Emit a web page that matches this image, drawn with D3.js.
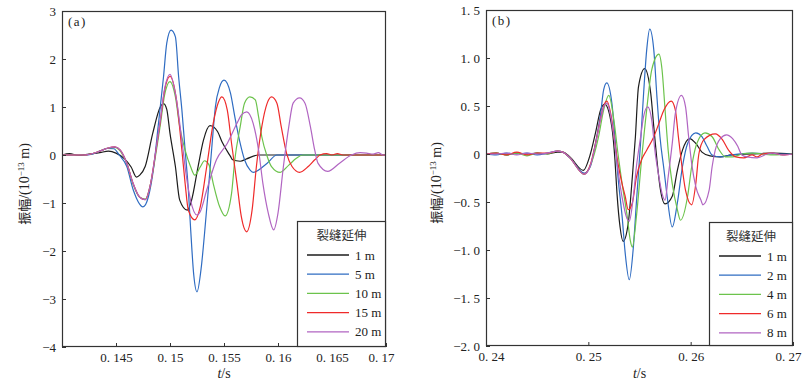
<!DOCTYPE html>
<html><head><meta charset="utf-8">
<script src="https://cdn.jsdelivr.net/npm/d3@7"></script>
<style>body{margin:0;background:#fff}svg{display:block}</style>
</head><body><svg id="c" width="809" height="381"></svg>
<script>
// ---------- data ----------
const legendTitle = "裂缝延伸";
const panelA_labels = ["1 m","5 m","10 m","15 m","20 m"];
const panelB_labels = ["1 m","2 m","4 m","6 m","8 m"];
const seriesColors = ["#1c1c1c","#2f6cc2","#6cc34c","#ef2a2a","#b165c2"];

const panelA_xTicks = [0.145,0.15,0.155,0.16,0.165,0.17];
const panelA_xTickLabels = ["0. 145","0. 15","0. 155","0. 16","0. 165","0. 17"];
const panelA_yTicks = [-4,-3,-2,-1,0,1,2,3];
const panelA_yTickLabels = ["−4","−3","−2","−1","0","1","2","3"];
const panelB_xTicks = [0.24,0.25,0.26,0.27];
const panelB_xTickLabels = ["0. 24","0. 25","0. 26","0. 27"];
const panelB_yTicks = [-2,-1.5,-1,-0.5,0,0.5,1,1.5];
const panelB_yTickLabels = ["−2. 0","−1. 5","−1. 0","−0. 5","0","0. 5","1. 0","1. 5"];

// panel (a): [t (s), amplitude (1e-13 m)]
const A_1m = [[0.14,0],[0.1407,0.03],[0.1415,-0.01],[0.1425,0.02],[0.1435,0.05],[0.1443,0.08],[0.145,0.04],[0.1458,-0.08],[0.1464,-0.25],[0.1469,-0.46],[0.1472,-0.42],[0.1477,-0.24],[0.1484,0.45],[0.1491,1.0],[0.1494,1.07],[0.1497,0.95],[0.15,0.45],[0.1505,-0.24],[0.1509,-0.94],[0.1516,-1.15],[0.152,-0.94],[0.1526,-0.24],[0.1531,0.31],[0.1537,0.61],[0.1544,0.49],[0.1548,0.28],[0.1556,-0.03],[0.1558,-0.1],[0.1565,-0.13],[0.1571,-0.08],[0.1582,0],[0.17,0]];
const A_5m = [[0.14,0],[0.142,0],[0.1428,0.02],[0.1435,0.08],[0.1442,0.14],[0.1448,0.13],[0.1453,0.0],[0.146,-0.24],[0.1466,-0.73],[0.1475,-1.08],[0.148,-0.87],[0.1485,-0.24],[0.1489,0.59],[0.1494,1.63],[0.1497,2.33],[0.1501,2.6],[0.1505,2.46],[0.1508,1.63],[0.1511,0.94],[0.1514,0.1],[0.1517,-0.73],[0.1519,-1.5],[0.1522,-2.5],[0.1525,-2.85],[0.1529,-2.33],[0.1532,-1.63],[0.1536,-0.59],[0.1539,0.24],[0.1542,1.0],[0.1546,1.42],[0.155,1.56],[0.1556,1.29],[0.156,0.8],[0.1565,0.24],[0.1569,-0.1],[0.1574,-0.31],[0.1577,-0.36],[0.159,-0.17],[0.1599,0],[0.17,0]];
const A_10m = [[0.14,0],[0.142,0],[0.1435,0.08],[0.1442,0.14],[0.1449,0.16],[0.1454,0.08],[0.146,-0.17],[0.1466,-0.62],[0.1472,-0.88],[0.1477,-0.92],[0.1482,-0.6],[0.1486,-0.1],[0.1491,0.62],[0.1495,1.25],[0.15,1.53],[0.1505,1.21],[0.1509,0.59],[0.1514,0.1],[0.1519,-0.24],[0.1523,-0.42],[0.1528,-0.25],[0.1532,-0.12],[0.1536,-0.2],[0.154,-0.59],[0.1546,-1.08],[0.1551,-1.27],[0.1557,-0.8],[0.156,-0.1],[0.1565,0.59],[0.1569,1.08],[0.1574,1.21],[0.1579,1.15],[0.1582,0.8],[0.1585,0.38],[0.159,-0.03],[0.1594,-0.24],[0.1602,-0.36],[0.161,-0.21],[0.1617,-0.07],[0.1623,0],[0.17,0]];
const A_15m = [[0.14,0],[0.142,0],[0.1435,0.08],[0.1442,0.14],[0.1449,0.17],[0.1454,0.1],[0.146,-0.17],[0.1466,-0.6],[0.1472,-0.88],[0.1477,-0.93],[0.1482,-0.6],[0.1486,-0.05],[0.1491,0.7],[0.1495,1.35],[0.15,1.64],[0.1506,1.15],[0.1511,0.1],[0.1514,-0.59],[0.1517,-1.15],[0.1523,-1.35],[0.1528,-1.08],[0.1534,-0.24],[0.154,0.66],[0.1545,1.11],[0.1548,1.21],[0.1553,0.94],[0.1557,0.24],[0.1562,-0.59],[0.1566,-1.28],[0.1571,-1.6],[0.1576,-1.15],[0.158,-0.24],[0.1585,0.59],[0.159,1.08],[0.1594,1.21],[0.1599,1.08],[0.1603,0.59],[0.1608,0.03],[0.1613,-0.24],[0.162,-0.36],[0.1628,-0.24],[0.1634,-0.1],[0.1639,0],[0.1645,0.03],[0.165,0],[0.1655,0.03],[0.166,0],[0.17,0]];
const A_20m = [[0.14,0],[0.142,0],[0.1435,0.08],[0.1442,0.14],[0.1449,0.17],[0.1454,0.1],[0.146,-0.17],[0.1466,-0.6],[0.1472,-0.88],[0.1477,-0.93],[0.1482,-0.6],[0.1486,-0.05],[0.1491,0.72],[0.1495,1.38],[0.15,1.68],[0.1506,1.15],[0.1511,0.3],[0.1515,-0.42],[0.1519,-0.94],[0.1525,-1.25],[0.1528,-1.18],[0.1534,-0.73],[0.1543,-0.1],[0.1553,0.24],[0.1562,0.66],[0.1566,0.83],[0.1571,0.9],[0.1577,0.66],[0.1582,0.1],[0.1586,-0.59],[0.1591,-1.21],[0.1596,-1.56],[0.16,-1.21],[0.1605,-0.24],[0.161,0.59],[0.1614,1.08],[0.162,1.19],[0.1625,1.08],[0.163,0.59],[0.1634,0.1],[0.1637,-0.17],[0.1646,-0.34],[0.1657,-0.17],[0.1668,0],[0.1676,0.05],[0.1682,0.04],[0.1688,0.02],[0.1693,0.05],[0.1697,0],[0.17,0]];

// panel (b)
const B_1m = [[0.24,0],[0.241,0.01],[0.242,-0.01],[0.243,0.01],[0.244,0],[0.245,0.01],[0.246,0],[0.247,0.02],[0.2475,0.02],[0.2482,-0.03],[0.2495,-0.17],[0.2502,0.0],[0.2507,0.22],[0.2512,0.46],[0.2516,0.52],[0.2523,0.28],[0.2526,-0.06],[0.2528,-0.41],[0.2531,-0.76],[0.2534,-0.91],[0.2539,-0.72],[0.2543,-0.24],[0.2546,0.18],[0.2549,0.7],[0.2555,0.89],[0.2561,0.63],[0.2564,0.28],[0.2567,-0.06],[0.257,-0.34],[0.2575,-0.52],[0.2582,-0.44],[0.2587,-0.17],[0.2592,0.04],[0.2599,0.16],[0.2605,0.11],[0.2611,0.02],[0.2619,-0.02],[0.2629,-0.03],[0.264,-0.01],[0.266,0],[0.268,0.01],[0.27,0]];
const B_2m = [[0.24,0],[0.241,-0.01],[0.242,0.01],[0.243,0],[0.244,0.01],[0.245,-0.01],[0.246,0.01],[0.247,0.03],[0.2475,0.02],[0.2482,-0.04],[0.2496,-0.2],[0.2502,-0.13],[0.2507,0.11],[0.2512,0.42],[0.2515,0.67],[0.2518,0.74],[0.2523,0.53],[0.2526,0.18],[0.2529,-0.24],[0.2533,-0.65],[0.2536,-1.03],[0.254,-1.31],[0.2544,-0.97],[0.2547,-0.5],[0.2551,0.11],[0.2554,0.63],[0.2557,1.08],[0.256,1.3],[0.2564,1.08],[0.2567,0.6],[0.257,0.18],[0.2574,-0.17],[0.2577,-0.44],[0.2582,-0.76],[0.2587,-0.51],[0.2592,-0.13],[0.2597,0.11],[0.2605,0.22],[0.2611,0.18],[0.2616,0.08],[0.2621,-0.01],[0.2629,-0.03],[0.264,-0.01],[0.266,0.01],[0.268,0],[0.27,0]];
const B_4m = [[0.24,0],[0.241,0.01],[0.242,-0.01],[0.243,0.01],[0.244,-0.02],[0.245,0.01],[0.246,0],[0.247,0.03],[0.2475,0.02],[0.2482,-0.04],[0.2496,-0.21],[0.2505,-0.03],[0.251,0.18],[0.2515,0.46],[0.252,0.61],[0.2525,0.35],[0.2529,0.0],[0.2533,-0.31],[0.2538,-0.65],[0.2541,-0.9],[0.2543,-0.97],[0.2547,-0.65],[0.2552,-0.06],[0.2557,0.46],[0.2562,0.88],[0.2569,1.04],[0.2572,0.88],[0.2575,0.46],[0.2578,0.04],[0.2582,-0.31],[0.2587,-0.58],[0.259,-0.69],[0.2597,-0.44],[0.2601,-0.13],[0.2606,0.11],[0.2614,0.22],[0.2621,0.18],[0.2628,0.04],[0.2634,-0.03],[0.2641,-0.03],[0.265,0],[0.266,0.01],[0.268,-0.01],[0.27,0]];
const B_6m = [[0.24,0],[0.241,0.01],[0.242,-0.01],[0.243,0.02],[0.244,-0.01],[0.245,0.01],[0.246,0.01],[0.247,0.03],[0.2475,0.02],[0.2482,-0.04],[0.2496,-0.21],[0.2502,-0.11],[0.2507,0.11],[0.2512,0.37],[0.2515,0.5],[0.2518,0.55],[0.2523,0.35],[0.2526,0.11],[0.2529,-0.1],[0.2533,-0.31],[0.2536,-0.44],[0.2539,-0.58],[0.2543,-0.51],[0.2547,-0.24],[0.2552,-0.06],[0.2557,0.04],[0.2564,0.18],[0.2569,0.32],[0.2574,0.46],[0.2581,0.55],[0.2585,0.46],[0.2588,0.18],[0.2592,-0.17],[0.2595,-0.38],[0.2601,-0.53],[0.2605,-0.31],[0.2608,0.0],[0.2613,0.15],[0.2624,0.21],[0.2631,0.15],[0.2637,0.04],[0.2644,-0.03],[0.2652,-0.04],[0.266,-0.01],[0.2665,-0.03],[0.267,0],[0.268,0.01],[0.269,-0.01],[0.27,0]];
const B_8m = [[0.24,0],[0.241,0],[0.242,0.01],[0.243,-0.01],[0.244,0.01],[0.245,0],[0.246,0.01],[0.247,0.03],[0.2475,0.02],[0.2482,-0.04],[0.2496,-0.21],[0.2502,-0.12],[0.2507,0.1],[0.2512,0.36],[0.2515,0.49],[0.2518,0.53],[0.2525,0.18],[0.2529,-0.17],[0.2534,-0.51],[0.2537,-0.65],[0.254,-0.7],[0.2544,-0.44],[0.2547,-0.13],[0.2551,0.17],[0.2554,0.39],[0.2558,0.49],[0.2562,0.35],[0.2565,0.04],[0.2569,-0.24],[0.2572,-0.41],[0.2575,-0.48],[0.2578,-0.24],[0.2582,0.11],[0.2585,0.42],[0.2591,0.61],[0.2595,0.49],[0.2598,0.18],[0.2601,-0.1],[0.2605,-0.34],[0.261,-0.48],[0.2612,-0.53],[0.2618,-0.38],[0.2621,-0.13],[0.2624,0.04],[0.2629,0.16],[0.2635,0.2],[0.2641,0.16],[0.2646,0.08],[0.265,-0.01],[0.2655,-0.03],[0.2665,-0.04],[0.2675,0],[0.268,0.01],[0.269,-0.01],[0.27,0]];

// ---------- drawing ----------
const svg = d3.select("#c");
const SERIF = "'Liberation Serif','Times New Roman','Noto Sans CJK SC',serif";
const CJK = "'Noto Sans CJK SC','Liberation Serif',serif";

function panel(cfg){
  const x = d3.scaleLinear().domain(cfg.xDomain).range([cfg.left, cfg.right]);
  const y = d3.scaleLinear().domain(cfg.yDomain).range([cfg.bottom, cfg.top]);
  const g = svg.append("g");
  const clipId = "clip" + cfg.id;
  svg.append("clipPath").attr("id", clipId).append("rect")
    .attr("x", cfg.left).attr("y", cfg.top)
    .attr("width", cfg.right - cfg.left).attr("height", cfg.bottom - cfg.top);

  const line = d3.line().x(d => x(d[0])).y(d => y(d[1])).curve(d3.curveMonotoneX);
  const lines = g.append("g").attr("clip-path", `url(#${clipId})`);
  cfg.series.forEach((s, i) => {
    lines.append("path").datum(s).attr("d", line)
      .attr("fill", "none").attr("stroke", seriesColors[i])
      .attr("stroke-width", 1.2).attr("stroke-linejoin", "round");
  });

  // axes
  const xa = g.append("g").attr("transform", `translate(0,${cfg.bottom})`)
    .call(d3.axisBottom(x).tickValues(cfg.xTicks).tickSizeInner(-4).tickSizeOuter(0).tickPadding(6)
      .tickFormat((d, i) => cfg.xTickLabels[i]));
  const ya = g.append("g").attr("transform", `translate(${cfg.left},0)`)
    .call(d3.axisLeft(y).tickValues(cfg.yTicks).tickSizeInner(-4).tickSizeOuter(0).tickPadding(6)
      .tickFormat((d, i) => cfg.yTickLabels[i]));
  [xa, ya].forEach(a => {
    a.select(".domain").remove();
    a.selectAll("line").attr("stroke", "#333");
    a.selectAll("text").attr("font-family", SERIF).attr("font-size", 13).attr("fill", "#222");
  });
  // edge labels nudged inward like the original
  const xt0 = xa.selectAll(".tick text");
  const n = cfg.xTicks.length;
  xt0.attr("dx", (d, i) => (i === 0 && cfg.xDomain[0] === d) ? 5 : (i === n - 1 ? -5 : 0));

  // frame
  g.append("rect").attr("x", cfg.left + 0.5).attr("y", cfg.top + 0.5)
    .attr("width", cfg.right - cfg.left - 1).attr("height", cfg.bottom - cfg.top - 1)
    .attr("fill", "none").attr("stroke", "#333").attr("stroke-width", 1.2);

  // panel tag
  g.append("text").attr("x", cfg.left + 6).attr("y", cfg.top + 15)
    .attr("font-family", SERIF).attr("font-size", 13).attr("fill", "#222")
    .attr("letter-spacing", 1.5).text(cfg.tag);

  // axis titles
  const yt = g.append("text").attr("transform", `translate(${cfg.yTitleX},${(cfg.top + cfg.bottom) / 2 + 5}) rotate(-90)`)
    .attr("text-anchor", "middle").attr("font-family", SERIF).attr("font-size", 14).attr("fill", "#222");
  yt.append("tspan").attr("font-family", CJK).attr("font-size", 13).text("振幅");
  yt.append("tspan").text("/(10");
  yt.append("tspan").attr("font-size", 9).attr("dy", -5).text("−13");
  yt.append("tspan").attr("dy", 5).text(" m)");

  const xt = g.append("text").attr("x", (cfg.left + cfg.right) / 2).attr("y", 378)
    .attr("text-anchor", "middle").attr("font-family", SERIF).attr("font-size", 14).attr("fill", "#222");
  xt.append("tspan").attr("font-style", "italic").text("t");
  xt.append("tspan").text("/s");

  // legend
  const lg = g.append("g");
  lg.append("rect").attr("x", cfg.legX + 0.5).attr("y", cfg.legTop + 0.5)
    .attr("width", cfg.right - cfg.legX - 1).attr("height", cfg.bottom - cfg.legTop - 1)
    .attr("fill", "#fff").attr("stroke", "#333").attr("stroke-width", 1.2);
  lg.append("text").attr("x", (cfg.legX + cfg.right) / 2).attr("y", cfg.legTop + 19)
    .attr("text-anchor", "middle").attr("font-family", CJK).attr("font-size", 12.5).attr("fill", "#333")
    .text(legendTitle);
  cfg.labels.forEach((lab, i) => {
    const yy = cfg.legTop + 34 + i * 19.2;
    lg.append("line").attr("x1", cfg.legX + 10).attr("x2", cfg.legX + 52)
      .attr("y1", yy).attr("y2", yy).attr("stroke", seriesColors[i]).attr("stroke-width", 1.3);
    lg.append("text").attr("x", cfg.legX + 58).attr("y", yy + 4.5)
      .attr("font-family", SERIF).attr("font-size", 13).attr("fill", "#222").text(lab);
  });
}

panel({id: "a", left: 62, right: 386, top: 11, bottom: 347,
  xDomain: [0.14, 0.17], yDomain: [-4, 3],
  xTicks: panelA_xTicks, xTickLabels: panelA_xTickLabels,
  yTicks: panelA_yTicks, yTickLabels: panelA_yTickLabels,
  series: [A_1m, A_5m, A_10m, A_15m, A_20m], labels: panelA_labels,
  tag: "(a)", yTitleX: 29, legX: 297, legTop: 221});

panel({id: "b", left: 486, right: 793, top: 10, bottom: 346,
  xDomain: [0.24, 0.27], yDomain: [-2, 1.5],
  xTicks: panelB_xTicks, xTickLabels: panelB_xTickLabels,
  yTicks: panelB_yTicks, yTickLabels: panelB_yTickLabels,
  series: [B_1m, B_2m, B_4m, B_6m, B_8m], labels: panelB_labels,
  tag: "(b)", yTitleX: 441, legX: 709, legTop: 222});
</script>
</body></html>
